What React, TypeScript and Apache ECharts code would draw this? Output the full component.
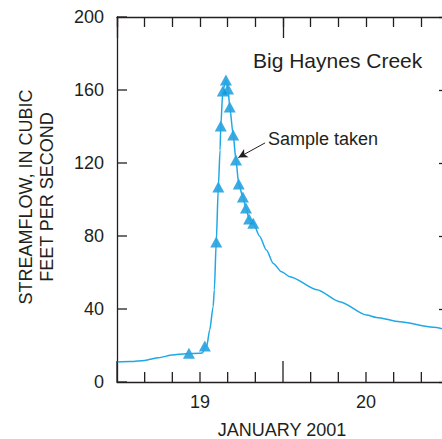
import React, { useEffect, useRef } from "react";
import * as echarts from "echarts";

// Streamflow hydrograph, hours counted from 00:00 on January 19, 2001
const flowHours = [
  0, 2, 4, 6, 8, 10, 12, 12.4, 12.7, 12.97, 13.4, 13.9, 14.07, 14.35, 14.65,
  14.9, 15.0, 15.3, 15.75, 16.05, 16.3, 16.8, 17.2, 17.6, 18.2, 18.65, 19.1,
  19.7, 20.6, 21.6, 22.6, 23.8, 25.0, 28.9, 32.2, 36.1, 37.5, 40.9, 45.7, 48,
];
const flowValues = [
  11.0, 11.2, 11.8, 13.3, 14.8, 15.5, 15.7, 16.0, 19.5, 19.6, 28.5, 41.3, 50.4,
  76.7, 106.8, 127, 140.3, 159.5, 165.5, 160.5, 150.7, 135.3, 121.6, 108.5,
  101.4, 95.3, 89.3, 87, 80, 72.3, 65, 60.4, 57.7, 50.6, 44, 36.7, 35.4, 33,
  30, 28.3,
];

// Times at which water-quality samples were taken
const sampleHours = [
  10.4, 12.7, 14.35, 14.65, 15.0, 15.3, 15.75, 16.05, 16.3, 16.8, 17.2, 17.6,
  18.2, 18.65, 19.1, 19.7,
];
const sampleValues = [
  15.7, 19.7, 76.7, 106.8, 140.3, 159.5, 165.5, 160.5, 150.7, 135.3, 121.6,
  108.5, 101.4, 95.3, 89.3, 87,
];

// Day labels sit at noon of each day; day boundaries get long ticks
const dayLabelHours = [12, 36];
const dayLabels = ["19", "20"];
const dayBoundaryHours = [0, 24, 48];
const hourTicks = [0, 4, 8, 12, 16, 20, 24, 28, 32, 36, 40, 44, 48];
const flowTicks = [0, 40, 80, 120, 160, 200];

const INK = "#231f20";
const FONT = '"Liberation Sans", Arial, Helvetica, sans-serif';

const ink = () => ({ color: INK, width: 1.3 });

// Top and right frame: ticks drawn by label-less axes
const frameAxisX = (interval: number, tickLen: number, line: boolean) => ({
  type: "value",
  min: 0,
  max: 48,
  interval,
  position: "top",
  splitLine: { show: false },
  axisLine: { show: line, onZero: false, lineStyle: ink() },
  axisTick: { show: true, inside: true, length: tickLen, lineStyle: ink() },
  axisLabel: { show: false },
});

const textEl = (x: number, y: number, text: string, fontSize: number, align: string, extra: object = {}, style: object = {}) => ({
  type: "text",
  x,
  y,
  ...extra,
  style: {
    text,
    fontSize,
    fontFamily: FONT,
    fill: INK,
    textAlign: align,
    textVerticalAlign: "middle",
    ...style,
  },
});

export default function App() {
  const ref = useRef<HTMLDivElement>(null);

  useEffect(() => {
    if (!ref.current) return;
    const chart = echarts.init(ref.current, null, { renderer: "svg" });

    chart.setOption({
      animation: false,
      backgroundColor: "#ffffff",
      grid: { left: 117, top: 17, width: 332, height: 365, show: false },
      xAxis: [
        {
          type: "value",
          min: 0,
          max: 48,
          interval: 4,
          position: "bottom",
          splitLine: { show: false },
          axisLine: { show: true, onZero: false, lineStyle: ink() },
          axisTick: { show: false },
          axisLabel: {
            show: true,
            margin: 11,
            fontSize: 18,
            color: INK,
            fontFamily: FONT,
            formatter: (v: number) => {
              const i = dayLabelHours.indexOf(v);
              return i >= 0 ? dayLabels[i] : "";
            },
          },
        },
        frameAxisX(4, 10, true),
        frameAxisX(24, 21, false),
      ],
      yAxis: [
        {
          type: "value",
          min: 0,
          max: 200,
          interval: 40,
          position: "left",
          splitLine: { show: false },
          axisLine: { show: true, onZero: false, lineStyle: ink() },
          axisTick: { show: false },
          axisLabel: { show: true, margin: 13, fontSize: 18, color: INK, fontFamily: FONT },
        },
        {
          type: "value",
          min: 0,
          max: 200,
          interval: 40,
          position: "right",
          splitLine: { show: false },
          axisLine: { show: true, onZero: false, lineStyle: ink() },
          axisTick: { show: true, inside: true, length: 10, lineStyle: ink() },
          axisLabel: { show: false },
        },
      ],
      series: [
        {
          type: "line",
          xAxisIndex: 0,
          yAxisIndex: 0,
          data: flowHours.map((h, i) => [h, flowValues[i]]),
          showSymbol: false,
          smooth: 0.25,
          smoothMonotone: "x",
          lineStyle: { color: "#1fa8e6", width: 1.5 },
        },
        {
          type: "scatter",
          xAxisIndex: 0,
          yAxisIndex: 0,
          data: sampleHours.map((h, i) => [h, sampleValues[i]]),
          symbol: "triangle",
          symbolSize: [12, 11],
          itemStyle: { color: "#0c95d9" },
          markLine: {
            silent: true,
            symbol: ["none", "arrow"],
            symbolSize: [7, 9],
            label: { show: false },
            lineStyle: { color: INK, width: 1, type: "solid" },
            data: [[{ coord: [21.4, 131] }, { coord: [17.55, 123] }]],
          },
        },
        // Inward ticks on the bottom frame (long ones at day boundaries)
        {
          type: "custom",
          xAxisIndex: 0,
          yAxisIndex: 0,
          silent: true,
          clip: false,
          data: hourTicks.map((h) => [h, 0]),
          renderItem: (_params: any, api: any) => {
            const h = api.value(0);
            const p = api.coord([h, 0]);
            const len = dayBoundaryHours.includes(h) ? 21 : 10;
            return {
              type: "line",
              shape: { x1: p[0], y1: p[1], x2: p[0], y2: p[1] - len },
              style: { stroke: INK, lineWidth: 1.3, fill: null },
            };
          },
          z: 10,
        },
        // Inward ticks on the left frame
        {
          type: "custom",
          xAxisIndex: 0,
          yAxisIndex: 0,
          silent: true,
          clip: false,
          data: flowTicks.map((v) => [0, v]),
          renderItem: (_params: any, api: any) => {
            const p = api.coord([0, api.value(1)]);
            return {
              type: "line",
              shape: { x1: p[0], y1: p[1], x2: p[0] + 10, y2: p[1] },
              style: { stroke: INK, lineWidth: 1.3, fill: null },
            };
          },
          z: 10,
        },
      ],
      graphic: [
        textEl(253, 60, "Big Haynes Creek", 21, "left"),
        textEl(268, 139, "Sample taken", 18, "left"),
        textEl(282, 430, "JANUARY 2001", 18, "center"),
        textEl(
          36,
          197,
          "STREAMFLOW, IN CUBIC\nFEET PER SECOND",
          18,
          "center",
          { rotation: Math.PI / 2 },
          { lineHeight: 21 }
        ),
      ],
    });

    return () => chart.dispose();
  }, []);

  return (
    <div
      style={{
        position: "fixed",
        left: 0,
        top: 0,
        width: 442,
        height: 439,
        overflow: "hidden",
        background: "#fff",
      }}
    >
      <div ref={ref} style={{ width: 470, height: 439 }} />
    </div>
  );
}
